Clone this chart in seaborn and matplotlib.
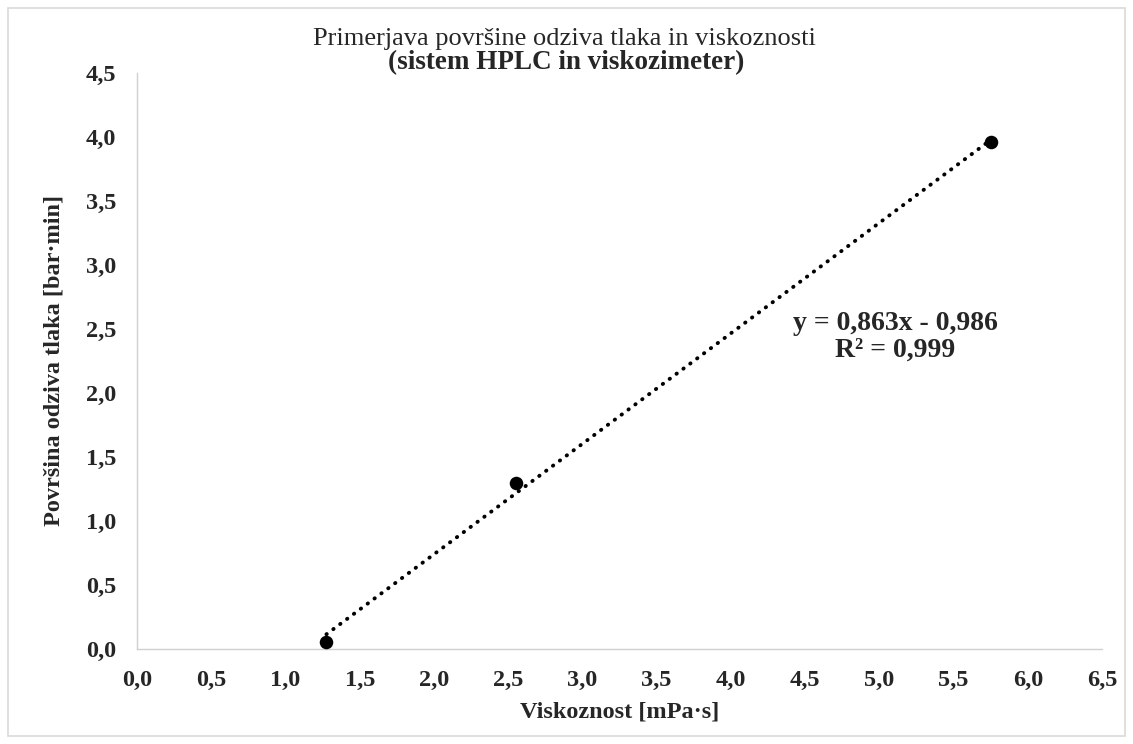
import numpy as np
import pandas as pd
import matplotlib
matplotlib.use("Agg")
import matplotlib.pyplot as plt
import seaborn as sns
from matplotlib.patches import Rectangle
from matplotlib.ticker import FuncFormatter

# Measured data: viscosity vs. pressure response area
viskoznost = [1.276, 2.553, 5.755]
povrsina = [0.058, 1.297, 3.958]

x_ticks = np.arange(0, 6.51, 0.5)
y_ticks = np.arange(0, 4.51, 0.5)

df = pd.DataFrame({"Viskoznost": viskoznost, "Povrsina": povrsina})

sns.set_theme(style="white")
plt.rcParams["font.family"] = ["Liberation Serif", "DejaVu Serif"]

fig = plt.figure(figsize=(11.33, 7.44), dpi=100)
ax = fig.add_axes([137 / 1133, 1 - 649 / 744, (1102 - 137) / 1133, (649 - 73) / 744])

# Linear trendline fitted to the measurements
slope, intercept = np.polyfit(df["Viskoznost"], df["Povrsina"], 1)
pred = slope * df["Viskoznost"] + intercept
r2 = 1 - np.sum((df["Povrsina"] - pred) ** 2) / np.sum((df["Povrsina"] - df["Povrsina"].mean()) ** 2)
xs = np.array([df["Viskoznost"].min(), df["Viskoznost"].max()])
ax.plot(xs, slope * xs + intercept, color="black", linestyle=(0, (0.1, 2.1)),
        linewidth=2.8, dash_capstyle="round", zorder=2)

sns.scatterplot(data=df, x="Viskoznost", y="Povrsina", ax=ax, color="black",
                s=95, edgecolor="black", linewidth=0, zorder=3, clip_on=False)

ax.set_xlim(0, 6.5)
ax.set_ylim(0, 4.5)
ax.set_xticks(x_ticks)
ax.set_yticks(y_ticks)
comma = FuncFormatter(lambda v, p: f"{v:.1f}".replace(".", ","))
ax.xaxis.set_major_formatter(comma)
ax.yaxis.set_major_formatter(comma)
ax.tick_params(axis="both", length=0, labelsize=17.5)
ax.tick_params(axis="x", pad=15)
ax.tick_params(axis="y", pad=15)
for lab in ax.get_xticklabels() + ax.get_yticklabels():
    lab.set_fontweight("bold")

for side in ["top", "right"]:
    ax.spines[side].set_visible(False)
for side in ["left", "bottom"]:
    ax.spines[side].set_color("#d0d0d0")
    ax.spines[side].set_linewidth(1.0)

ax.set_xlabel("Viskoznost [mPa·s]", fontsize=17.5, fontweight="bold", labelpad=8)
ax.set_ylabel("Površina odziva tlaka [bar·min]", fontsize=17.5, fontweight="bold", labelpad=15)

eq = f"y = {slope:.3f}x - {abs(intercept):.3f}".replace(".", ",")
r2_txt = f"R² = {r2:.3f}".replace(".", ",")
eq_x = ax.transData.inverted().transform(fig.transFigure.transform((895 / 1133, 0)))[0]
eq_y = ax.transData.inverted().transform(fig.transFigure.transform((0, 1 - 337 / 744)))[1]
ax.text(eq_x, eq_y, eq + "\n" + r2_txt, ha="center", va="center",
        fontsize=20, fontweight="bold", linespacing=1.12)

fig.text(564 / 1133, 1 - 39 / 744, "Primerjava površine odziva tlaka in viskoznosti",
         ha="center", va="center", fontsize=19)
fig.text(566 / 1133, 1 - 63 / 744, "(sistem HPLC in viskozimeter)",
         ha="center", va="center", fontsize=19.5, fontweight="bold")

# Light frame around the chart area
fig.patches.append(Rectangle((8 / 1133, 8 / 744), 1 - 16 / 1133, 1 - 16 / 744,
                             transform=fig.transFigure, fill=False,
                             edgecolor="#d9d9d9", linewidth=1.2))

fig.savefig("out.png", dpi=100, facecolor="white")
